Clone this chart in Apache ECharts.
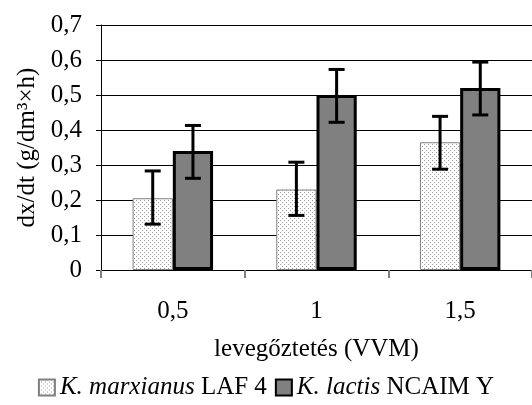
<!DOCTYPE html>
<html>
<head>
<meta charset="utf-8">
<script src="https://cdn.jsdelivr.net/npm/echarts@6/dist/echarts.min.js"></script>
<style>
  html, body { margin: 0; padding: 0; background: #fff; }
  #chart { width: 532px; height: 405px; }
</style>
</head>
<body>
<div id="chart"></div>
<script>
// aeration rates (VVM)
var categories = ['0,5', '1', '1,5']
var marxianus = [0.205, 0.23, 0.365]
var marxianusLow = [0.131, 0.156, 0.288]
var marxianusHigh = [0.283, 0.308, 0.439]
var lactis = [0.34, 0.50, 0.52]
var lactisLow = [0.262, 0.422, 0.443]
var lactisHigh = [0.413, 0.573, 0.594]
var yTicks = [0, 0.1, 0.2, 0.3, 0.4, 0.5, 0.6, 0.7]

// dotted fill for the light bars
function dotPattern() {
  var c = document.createElement('canvas')
  c.width = 4
  c.height = 4
  var ctx = c.getContext('2d')
  ctx.fillStyle = '#ffffff'
  ctx.fillRect(0, 0, 4, 4)
  ctx.fillStyle = '#9a9a9a'
  ctx.fillRect(0, 0, 1, 1)
  ctx.fillRect(2, 2, 1, 1)
  return c
}

var BAR_RATIO = 0.28

function errorBars(low, high, side) {
  return {
    type: 'custom',
    silent: true,
    z: 10,
    data: categories.map(function (c, i) { return [i, low[i], high[i]] }),
    renderItem: function (params, api) {
      var band = api.size([1, 0])[0]
      var barW = band * BAR_RATIO
      var lo = api.coord([api.value(0), api.value(1)])
      var hi = api.coord([api.value(0), api.value(2)])
      var x = lo[0] + side * barW / 2
      var cap = 8
      var style = { stroke: '#000', lineWidth: 3 }
      return {
        type: 'group',
        children: [
          { type: 'line', shape: { x1: x, y1: lo[1], x2: x, y2: hi[1] }, style: style },
          { type: 'line', shape: { x1: x - cap, y1: lo[1], x2: x + cap, y2: lo[1] }, style: style },
          { type: 'line', shape: { x1: x - cap, y1: hi[1], x2: x + cap, y2: hi[1] }, style: style }
        ]
      }
    }
  }
}

var chart = echarts.init(document.getElementById('chart'))

var font = 'Liberation Serif'
var fs = 25

var option = {
  animation: false,
  textStyle: { fontFamily: font, color: '#000' },
  grid: {
    left: 101,
    right: 0,
    top: 25,
    bottom: 135,
    containLabel: false
  },
  legend: {
    bottom: 0,
    left: 'center',
    icon: 'rect',
    itemWidth: 16,
    itemHeight: 16,
    itemGap: 8,
    textStyle: {
      fontFamily: font,
      fontSize: fs,
      color: '#000',
      rich: {
        i: { fontFamily: font, fontSize: fs, fontStyle: 'italic', color: '#000' },
        n: { fontFamily: font, fontSize: fs, color: '#000' }
      }
    },
    formatter: function (name) {
      if (name === 'marx') return '{i|K. marxianus}{n| LAF 4}'
      return '{i|K. lactis}{n| NCAIM Y}'
    },
    data: ['marx', 'lactis']
  },
  xAxis: {
    type: 'category',
    data: categories,
    name: 'levegőztetés (VVM)',
    nameLocation: 'middle',
    nameGap: 67,
    nameTextStyle: { fontFamily: font, fontSize: fs, color: '#000' },
    axisLine: { lineStyle: { color: '#000', width: 1 } },
    axisTick: { show: true, length: 8, lineStyle: { color: '#808080', width: 2 } },
    axisLabel: { margin: 29, fontFamily: font, fontSize: fs, color: '#000' }
  },
  yAxis: {
    type: 'value',
    min: yTicks[0],
    max: yTicks[yTicks.length - 1],
    interval: 0.1,
    name: 'dx/dt (g/dm³×h)',
    nameLocation: 'middle',
    nameGap: 56,
    nameTextStyle: { fontFamily: font, fontSize: fs, color: '#000' },
    axisLine: { show: true, lineStyle: { color: '#000', width: 1 } },
    axisTick: { show: true, length: 5, lineStyle: { color: '#000' } },
    axisLabel: {
      margin: 19,
      fontFamily: font,
      fontSize: fs,
      color: '#000',
      formatter: function (v) { return (Math.round(v * 10) / 10 + '').replace('.', ',') }
    },
    splitLine: { show: true, lineStyle: { color: '#000', width: 1 } }
  },
  series: [
    {
      name: 'marx',
      type: 'bar',
      data: marxianus,
      barWidth: (BAR_RATIO * 100) + '%',
      barGap: '0%',
      itemStyle: {
        color: { image: dotPattern(), repeat: 'repeat' },
        borderColor: '#808080',
        borderWidth: 1
      }
    },
    {
      name: 'lactis',
      type: 'bar',
      data: lactis,
      barWidth: (BAR_RATIO * 100) + '%',
      barGap: '0%',
      itemStyle: {
        color: '#808080',
        borderColor: '#000',
        borderWidth: 3
      }
    },
    errorBars(marxianusLow, marxianusHigh, -1),
    errorBars(lactisLow, lactisHigh, 1)
  ]
}

chart.setOption(option)
</script>
</body>
</html>
